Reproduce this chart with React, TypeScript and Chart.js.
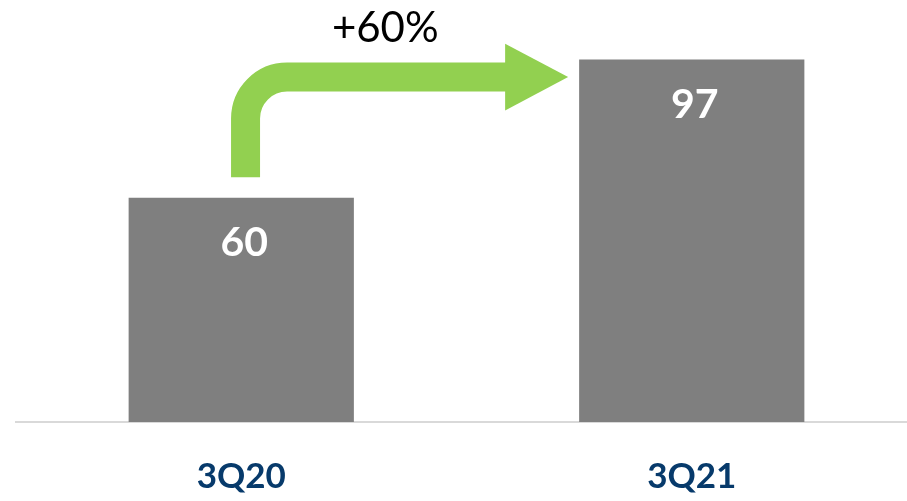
import React, { useEffect, useRef } from "react";
import { Chart, registerables } from "chart.js";

Chart.register(...registerables);

const categories: string[] = ["3Q20", "3Q21"];
const values: number[] = [60, 97];
const growthLabel = "+60%";

const BAR_COLOR = "#7F7F7F";
const ARROW_COLOR = "#92D050";
const AXIS_COLOR = "#D9D9D9";
const LABEL_COLOR = "#073A6B";

const overlayPlugin = {
  id: "overlay",
  afterDatasetsDraw(chart: any) {
    const ctx = chart.ctx as CanvasRenderingContext2D;
    const meta = chart.getDatasetMeta(0);
    const b1 = meta.data[0] as any;
    const b2 = meta.data[1] as any;
    if (!b1 || !b2) return;

    // value labels inside bars
    ctx.save();
    ctx.fillStyle = "#FFFFFF";
    ctx.font = "bold 41px Lato";
    ctx.textAlign = "center";
    ctx.textBaseline = "alphabetic";
    meta.data.forEach((bar: any, i: number) => {
      ctx.fillText(String(values[i]), bar.x + 3, bar.y + 58.5);
    });
    ctx.restore();

    // bent growth arrow
    const sx = b1.x + 4.3;
    const bottomY = b1.y - 20.6;
    const cy = b2.y + 17.6;
    const r = 41.5;
    const tipX = b2.x - b2.width / 2 - 11;
    const headLen = 63;
    const headHalf = 33.3;
    const baseX = tipX - headLen;

    ctx.save();
    ctx.strokeStyle = ARROW_COLOR;
    ctx.fillStyle = ARROW_COLOR;
    ctx.lineWidth = 29;
    ctx.lineCap = "butt";
    ctx.lineJoin = "miter";
    ctx.beginPath();
    ctx.moveTo(sx, bottomY);
    ctx.lineTo(sx, cy + r);
    ctx.arcTo(sx, cy, sx + r, cy, r);
    ctx.lineTo(baseX + 1, cy);
    ctx.stroke();
    ctx.beginPath();
    ctx.moveTo(baseX, cy - headHalf);
    ctx.lineTo(tipX, cy);
    ctx.lineTo(baseX, cy + headHalf);
    ctx.closePath();
    ctx.fill();

    // growth text
    ctx.fillStyle = "#000000";
    ctx.font = "42px Lato";
    ctx.textAlign = "center";
    ctx.textBaseline = "alphabetic";
    ctx.fillText(growthLabel, b1.x + 144, cy - 35.5);
    ctx.restore();
  },
};

export default function App() {
  const canvasRef = useRef<HTMLCanvasElement | null>(null);

  useEffect(() => {
    if (!canvasRef.current) return;
    const chart = new Chart(canvasRef.current, {
      type: "bar",
      data: {
        labels: categories,
        datasets: [
          {
            data: values,
            backgroundColor: BAR_COLOR,
            borderWidth: 0,
            categoryPercentage: 0.5,
            barPercentage: 1,
          },
        ],
      },
      options: {
        animation: false,
        responsive: false,
        maintainAspectRatio: false,
        layout: { padding: { left: 16, right: 0, top: 48.3, bottom: 0 } },
        plugins: {
          legend: { display: false },
          tooltip: { enabled: false },
          title: { display: false },
        },
        scales: {
          x: {
            grid: { display: false, drawTicks: false },
            border: { display: true, color: AXIS_COLOR, width: 2 },
            ticks: {
              color: LABEL_COLOR,
              font: { family: "Lato", size: 35, weight: "bold" },
              padding: 34,
            },
            afterFit: (scale: any) => {
              scale.height = 79;
            },
          },
          y: {
            display: false,
            min: 0,
            max: 100,
          },
        },
      },
      plugins: [overlayPlugin],
    });
    return () => chart.destroy();
  }, []);

  return (
    <div
      style={{
        position: "fixed",
        left: 0,
        top: 0,
        width: 907,
        height: 501,
        overflow: "hidden",
        background: "#FFFFFF",
      }}
    >
      <canvas ref={canvasRef} width={917} height={501} style={{ display: "block" }} />
    </div>
  );
}
